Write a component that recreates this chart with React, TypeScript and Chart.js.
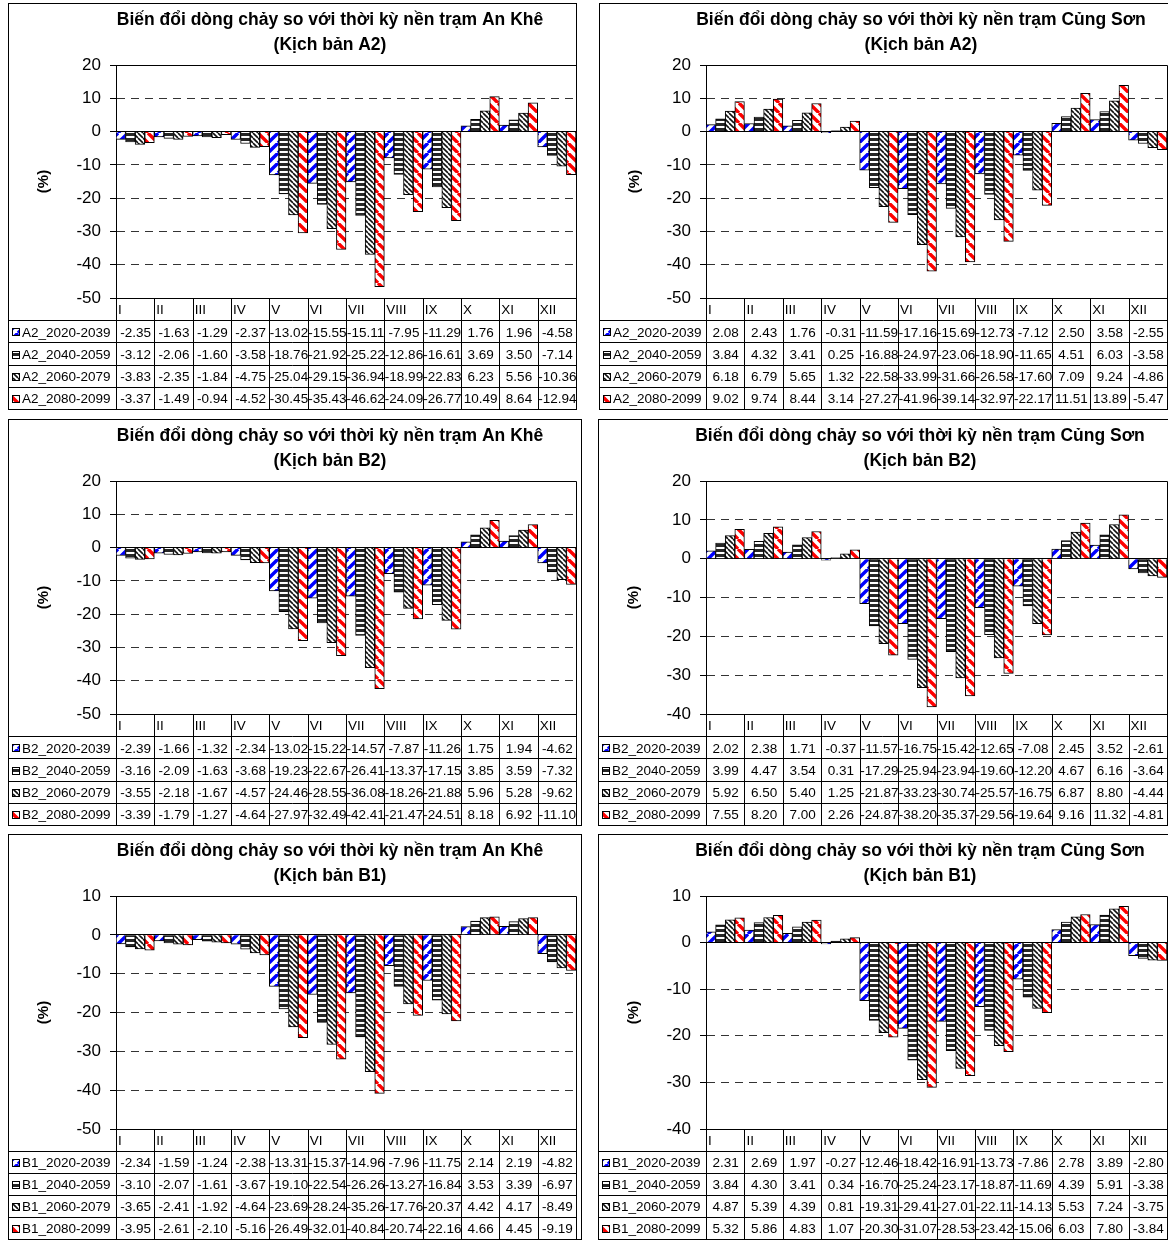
import React, { useEffect, useRef } from 'react';
import { Chart, registerables } from 'chart.js';

Chart.register(...registerables);

const FONT = '"Liberation Sans", Arial, Helvetica, sans-serif';

const MONTHS = ['I', 'II', 'III', 'IV', 'V', 'VI', 'VII', 'VIII', 'IX', 'X', 'XI', 'XII'];
const PERIODS = ['2020-2039', '2040-2059', '2060-2079', '2080-2099'];
const TITLE_LINE = 'Biến đổi dòng chảy so với thời kỳ nền trạm';
const Y_STEP = 10;

const anKheA2: number[][] = [
  [-2.35, -1.63, -1.29, -2.37, -13.02, -15.55, -15.11, -7.95, -11.29, 1.76, 1.96, -4.58],
  [-3.12, -2.06, -1.6, -3.58, -18.76, -21.92, -25.22, -12.86, -16.61, 3.69, 3.5, -7.14],
  [-3.83, -2.35, -1.84, -4.75, -25.04, -29.15, -36.94, -18.99, -22.83, 6.23, 5.56, -10.36],
  [-3.37, -1.49, -0.94, -4.52, -30.45, -35.43, -46.62, -24.09, -26.77, 10.49, 8.64, -12.94],
];
const cungSonA2: number[][] = [
  [2.08, 2.43, 1.76, -0.31, -11.59, -17.16, -15.69, -12.73, -7.12, 2.5, 3.58, -2.55],
  [3.84, 4.32, 3.41, 0.25, -16.88, -24.97, -23.06, -18.9, -11.65, 4.51, 6.03, -3.58],
  [6.18, 6.79, 5.65, 1.32, -22.58, -33.99, -31.66, -26.58, -17.6, 7.09, 9.24, -4.86],
  [9.02, 9.74, 8.44, 3.14, -27.27, -41.96, -39.14, -32.97, -22.17, 11.51, 13.89, -5.47],
];
const anKheB2: number[][] = [
  [-2.39, -1.66, -1.32, -2.34, -13.02, -15.22, -14.57, -7.87, -11.26, 1.75, 1.94, -4.62],
  [-3.16, -2.09, -1.63, -3.68, -19.23, -22.67, -26.41, -13.37, -17.15, 3.85, 3.59, -7.32],
  [-3.55, -2.18, -1.67, -4.57, -24.46, -28.55, -36.08, -18.26, -21.88, 5.96, 5.28, -9.62],
  [-3.39, -1.79, -1.27, -4.64, -27.97, -32.49, -42.41, -21.47, -24.51, 8.18, 6.92, -11.1],
];
const cungSonB2: number[][] = [
  [2.02, 2.38, 1.71, -0.37, -11.57, -16.75, -15.42, -12.65, -7.08, 2.45, 3.52, -2.61],
  [3.99, 4.47, 3.54, 0.31, -17.29, -25.94, -23.94, -19.6, -12.2, 4.67, 6.16, -3.64],
  [5.92, 6.5, 5.4, 1.25, -21.87, -33.23, -30.74, -25.57, -16.75, 6.87, 8.8, -4.44],
  [7.55, 8.2, 7.0, 2.26, -24.87, -38.2, -35.37, -29.56, -19.64, 9.16, 11.32, -4.81],
];
const anKheB1: number[][] = [
  [-2.34, -1.59, -1.24, -2.38, -13.31, -15.37, -14.96, -7.96, -11.75, 2.14, 2.19, -4.82],
  [-3.1, -2.07, -1.61, -3.67, -19.1, -22.54, -26.26, -13.27, -16.84, 3.53, 3.39, -6.97],
  [-3.65, -2.41, -1.92, -4.64, -23.69, -28.24, -35.26, -17.76, -20.37, 4.42, 4.17, -8.49],
  [-3.95, -2.61, -2.1, -5.16, -26.49, -32.01, -40.84, -20.74, -22.16, 4.66, 4.45, -9.19],
];
const cungSonB1: number[][] = [
  [2.31, 2.69, 1.97, -0.27, -12.46, -18.42, -16.91, -13.73, -7.86, 2.78, 3.89, -2.8],
  [3.84, 4.3, 3.41, 0.34, -16.7, -25.24, -23.17, -18.87, -11.69, 4.39, 5.91, -3.38],
  [4.87, 5.39, 4.39, 0.81, -19.31, -29.41, -27.01, -22.11, -14.13, 5.53, 7.24, -3.75],
  [5.32, 5.86, 4.83, 1.07, -20.3, -31.07, -28.53, -23.42, -15.06, 6.03, 7.8, -3.84],
];

type Box = { left: number; top: number; width: number; height: number; plotLeft: number; plotRight: number };
type PanelDef = { station: string; scenario: string; data: number[][]; yMin: number; yMax: number; box: Box };

const PANELS: PanelDef[] = [
  { station: 'An Khê', scenario: 'A2', data: anKheA2, yMin: -50, yMax: 20, box: { left: 8, top: 3, width: 569, height: 407, plotLeft: 108, plotRight: 568 } },
  { station: 'Củng Sơn', scenario: 'A2', data: cungSonA2, yMin: -50, yMax: 20, box: { left: 599, top: 3, width: 574, height: 407, plotLeft: 107, plotRight: 568 } },
  { station: 'An Khê', scenario: 'B2', data: anKheB2, yMin: -50, yMax: 20, box: { left: 8, top: 419, width: 574, height: 407, plotLeft: 108, plotRight: 568 } },
  { station: 'Củng Sơn', scenario: 'B2', data: cungSonB2, yMin: -40, yMax: 20, box: { left: 598, top: 419, width: 574, height: 407, plotLeft: 108, plotRight: 569 } },
  { station: 'An Khê', scenario: 'B1', data: anKheB1, yMin: -50, yMax: 10, box: { left: 8, top: 834, width: 574, height: 406, plotLeft: 108, plotRight: 568 } },
  { station: 'Củng Sơn', scenario: 'B1', data: cungSonB1, yMin: -40, yMax: 10, box: { left: 598, top: 834, width: 574, height: 406, plotLeft: 108, plotRight: 569 } },
];

const PLOT_TOP = 62;
const PLOT_H = 233;
const TITLE_CX = 322;

function makePattern(kind: string): CanvasPattern | string {
  const c = document.createElement('canvas');
  const s = kind === 'blue' || kind === 'red' ? 10 : 5;
  c.width = s;
  c.height = s;
  const g = c.getContext('2d');
  if (!g) return '#fff';
  g.fillStyle = '#fff';
  g.fillRect(0, 0, s, s);
  if (kind === 'horiz') {
    g.fillStyle = '#262626';
    g.fillRect(0, 0, s, 3);
  } else {
    g.strokeStyle = kind === 'blue' ? '#0000ff' : kind === 'red' ? '#ff0000' : '#111';
    g.lineWidth = kind === 'black' ? 1.6 : 3.4;
    g.beginPath();
    for (let k = -1; k <= 1; k++) {
      if (kind === 'blue') {
        g.moveTo(k * s, s);
        g.lineTo(k * s + s, 0);
      } else {
        g.moveTo(k * s, 0);
        g.lineTo(k * s + s, s);
      }
    }
    g.stroke();
  }
  return g.createPattern(c, 'repeat') || '#fff';
}

function Panel({ def }: { def: PanelDef }) {
  const ref = useRef<HTMLCanvasElement>(null);
  const b = def.box;

  useEffect(() => {
    const canvas = ref.current;
    if (!canvas) return;
    const pats = [makePattern('blue'), makePattern('horiz'), makePattern('black'), makePattern('red')];
    const names = PERIODS.map((p) => `${def.scenario}_${p}`);

    const tablePlugin = {
      id: 'dataTable',
      afterDraw(chart: any) {
        const { ctx, chartArea: ca } = chart;
        const xs = chart.scales.x;
        const W = chart.width;
        const H = chart.height;
        const n = MONTHS.length;
        const colW = (ca.right - ca.left) / n;
        const top = ca.bottom;
        const rowH = (H - 1 - top) / 5;
        const px = (v: number) => Math.round(v) + 0.5;
        ctx.save();

        // title
        ctx.fillStyle = '#000';
        ctx.textAlign = 'center';
        ctx.textBaseline = 'middle';
        ctx.font = `bold 17.5px ${FONT}`;
        ctx.fillText(`${TITLE_LINE} ${def.station}`, TITLE_CX, 17.5);
        ctx.fillText(`(Kịch bản ${def.scenario})`, TITLE_CX, 42);

        ctx.strokeStyle = '#000';
        ctx.lineWidth = 1;
        ctx.setLineDash([]);
        ctx.beginPath();
        ctx.moveTo(px(ca.left), px(ca.top));
        ctx.lineTo(px(ca.right), px(ca.top));
        ctx.moveTo(px(ca.right), px(ca.top));
        ctx.lineTo(px(ca.right), px(H - 1));
        ctx.moveTo(px(ca.left), px(top));
        ctx.lineTo(px(ca.right), px(top));
        for (let r = 1; r <= 4; r++) {
          const y = px(top + r * rowH);
          ctx.moveTo(0, y);
          ctx.lineTo(px(ca.right), y);
        }
        for (let i = 0; i < n; i++) {
          const x = px(xs.getPixelForValue(i) - colW / 2);
          ctx.moveTo(x, px(top));
          ctx.lineTo(x, px(H - 1));
        }
        ctx.stroke();
        ctx.strokeRect(0.5, 0.5, W - 1, H - 1);

        ctx.fillStyle = '#000';
        ctx.textBaseline = 'middle';
        ctx.font = `13.5px ${FONT}`;
        ctx.textAlign = 'left';
        for (let i = 0; i < n; i++) {
          const x = xs.getPixelForValue(i) - colW / 2;
          ctx.fillText(MONTHS[i], x + 2, top + rowH / 2 + 1.5);
        }
        for (let r = 0; r < 4; r++) {
          const mid = top + (r + 1) * rowH + rowH / 2 + 1.5;
          const ky = Math.round(mid - 4.5);
          ctx.fillStyle = pats[r] as any;
          ctx.fillRect(4, ky, 7, 7);
          ctx.strokeStyle = '#000';
          ctx.strokeRect(4.5, ky + 0.5, 7, 7);
          ctx.fillStyle = '#000';
          ctx.textAlign = 'left';
          ctx.font = `13.5px ${FONT}`;
          ctx.fillText(names[r], 14, mid);
          ctx.textAlign = 'center';
          const vals = def.data[r];
          for (let i = 0; i < n; i++) {
            ctx.fillText(vals[i].toFixed(2), xs.getPixelForValue(i) + 0.5, mid);
          }
        }
        ctx.restore();
      },
    };

    const isSolid = (c: any) => !c.tick || c.tick.value === 0 || c.tick.value === def.yMax || c.tick.value === def.yMin;

    const chart = new Chart(canvas, {
      type: 'bar',
      data: {
        labels: MONTHS,
        datasets: def.data.map((vals, r) => ({
          label: names[r],
          data: vals,
          backgroundColor: pats[r] as any,
          borderColor: '#000',
          borderWidth: 1,
          categoryPercentage: 1,
          barPercentage: 1,
        })),
      },
      options: {
        responsive: false,
        animation: false,
        devicePixelRatio: 1,
        layout: {
          padding: { left: 0, top: PLOT_TOP, right: b.width - b.plotRight, bottom: b.height - PLOT_TOP - PLOT_H },
        },
        plugins: {
          legend: { display: false },
          tooltip: { enabled: false },
          title: { display: false },
        },
        scales: {
          x: {
            type: 'category',
            display: false,
            offset: true,
            grid: { display: false },
          },
          y: {
            min: def.yMin,
            max: def.yMax,
            afterFit: (s: any) => {
              s.width = b.plotLeft;
            },
            ticks: {
              stepSize: Y_STEP,
              color: '#000',
              padding: 9,
              font: { family: FONT, size: 17 },
            },
            grid: {
              color: (c: any) => (isSolid(c) ? '#000' : '#333'),
              lineWidth: 1,
              tickLength: 6,
              tickColor: '#000',
              tickBorderDash: [],
            },
            border: {
              display: true,
              color: '#000',
              width: 1,
              dash: (c: any) => (isSolid(c) ? [] : [8, 6]),
            },
            title: {
              display: true,
              text: '(%)',
              color: '#000',
              font: { family: FONT, size: 15, weight: 'bold' },
              padding: { top: 27, bottom: 0 },
            },
          },
        },
      } as any,
      plugins: [tablePlugin],
    });
    return () => chart.destroy();
  }, [def]);

  return (
    <div style={{ position: 'absolute', left: b.left, top: b.top, width: b.width, height: b.height }}>
      <canvas ref={ref} width={b.width} height={b.height} style={{ display: 'block', width: b.width, height: b.height }} />
    </div>
  );
}

export default function App() {
  return (
    <div style={{ position: 'absolute', left: 0, top: 0, width: 1168, height: 1240, overflow: 'hidden', background: '#fff' }}>
      {PANELS.map((p, i) => (
        <Panel key={i} def={p} />
      ))}
    </div>
  );
}
